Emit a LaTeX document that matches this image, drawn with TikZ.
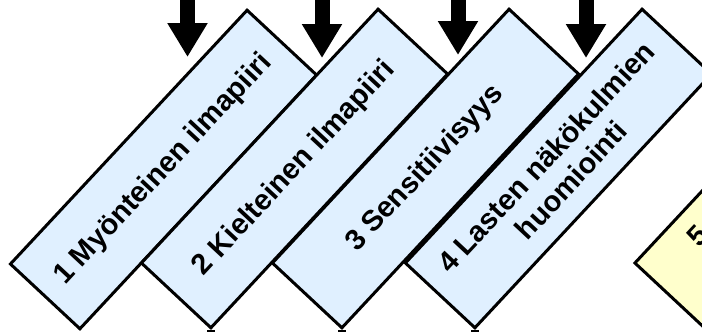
\documentclass[tikz,border=0pt]{standalone}
\usepackage{fontspec}
\setmainfont{Liberation Sans}
\usetikzlibrary{arrows.meta}
\definecolor{phaseblue}{HTML}{E0F0FF}
\definecolor{phaseyellow}{HTML}{FFFFCC}
\tikzstyle{phasetext} = [font=\fontsize{29}{34}\selectfont\bfseries]
\tikzstyle{phase} = [phasetext, draw, rectangle, line width=3pt,
    fill=phaseblue, rotate=47, minimum width=347pt, minimum height=95pt,
    inner sep=0pt, align=center]
\tikzstyle{inflow} = [-{Triangle[length=34pt, width=38pt]}, line width=15pt]
\tikzstyle{outflow} = [line width=8pt]

\begin{document}
\begin{tikzpicture}[x=1pt, y=-1pt]
        \useasboundingbox (0, 0) rectangle (702, 332);
        \clip (0, 0) rectangle (702, 332);

        \node[phase, name=box1] at (163.5, 169.5) {1 Myönteinen ilmapiiri};
        \node[phase, name=box2] at (294.5, 168.5) {2 Kielteinen ilmapiiri};
        \node[phase, name=box3] at (425.5, 168.5) {3 Sensitiivisyys};
        \node[phase, name=box4] at (558.5, 168.5) {4 Lasten näkökulmien\\huomiointi};
        \node[phase, fill=phaseyellow, name=box5] at (788, 168.5) {};
        \node[phasetext, rotate=47, name=lbl5] at (698, 236) {5};

        % arrows coming in from above
        \coordinate (in1) at (187.5, -10);
        \coordinate (in2) at (322, -10);
        \coordinate (in3) at (458, -10);
        \coordinate (in4) at (586, -10);
        \coordinate (tip1) at (187.5, 57);
        \coordinate (tip2) at (322, 58);
        \coordinate (tip3) at (458, 55);
        \coordinate (tip4) at (586, 58);
        \draw[inflow] (in1) -- (tip1);
        \draw[inflow] (in2) -- (tip2);
        \draw[inflow] (in3) -- (tip3);
        \draw[inflow] (in4) -- (tip4);

        % lines leaving below
        \coordinate (out2) at ([yshift=-20pt]box2.south west);
        \coordinate (out3) at ([yshift=-20pt]box3.south west);
        \coordinate (out4) at ([yshift=-20pt]box4.south west);
        \draw[outflow] (box2.south west) -- (out2);
        \draw[outflow] (box3.south west) -- (out3);
        \draw[outflow] (box4.south west) -- (out4);
    \end{tikzpicture}
\end{document}
